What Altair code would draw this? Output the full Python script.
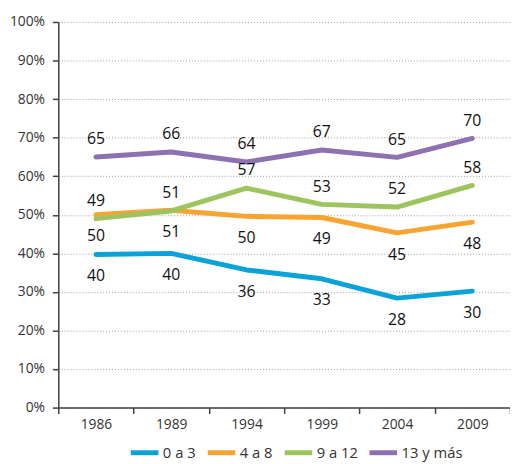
import altair as alt
import pandas as pd

years = ["1986", "1989", "1994", "1999", "2004", "2009"]
series_names = ["0 a 3", "4 a 8", "9 a 12", "13 y más"]
v_0a3 = [39.7, 40.0, 35.7, 33.4, 28.4, 30.2]
v_4a8 = [50.0, 51.2, 49.6, 49.3, 45.3, 48.1]
v_9a12 = [49.0, 51.0, 56.9, 52.7, 52.0, 57.6]
v_13 = [65.0, 66.3, 63.7, 66.8, 64.9, 69.8]
colors = ["#0AA3D8", "#F7A431", "#9DC45F", "#8D71B0"]

rows = []
for name, vals in zip(series_names, [v_0a3, v_4a8, v_9a12, v_13]):
    for y, v in zip(years, vals):
        rows.append({"year": y, "serie": name, "value": v})
df = pd.DataFrame(rows)

FONT = "Open Sans"

x = alt.X("year:O", sort=years, title=None,
          scale=alt.Scale(paddingInner=0, paddingOuter=0),
          axis=alt.Axis(labelAngle=0, tickBand="extent", domainColor="#404040",
                        tickColor="#404040", domainWidth=1.5, tickWidth=1.5,
                        tickSize=6, labelFontSize=14, labelColor="#333333",
                        labelFont=FONT, labelPadding=4, grid=False))
y = alt.Y("value:Q", title=None,
          scale=alt.Scale(domain=[0, 100]),
          axis=alt.Axis(values=list(range(0, 101, 10)), labelExpr="datum.value + '%'",
                        domainColor="#404040", tickColor="#404040", domainWidth=1.5,
                        tickWidth=1.5, tickSize=6, labelFontSize=14, labelColor="#333333",
                        labelFont=FONT, labelPadding=8, gridColor="#9a9a9a",
                        gridDash=[1, 2], gridWidth=1))
color = alt.Color("serie:N", sort=series_names,
                  scale=alt.Scale(domain=series_names, range=colors),
                  legend=alt.Legend(title=None, orient="none", direction="horizontal",
                                    legendX=71, legendY=420, symbolType="stroke",
                                    symbolSize=784, symbolStrokeWidth=5,
                                    labelFontSize=15, labelFont=FONT, labelColor="#333333",
                                    labelOffset=2, columnPadding=1, gridAlign="each"))

base = alt.Chart(df)
lines = base.mark_line(strokeWidth=5, strokeCap="round", strokeJoin="round").encode(
    x=x, y=y, color=color)

above = base.transform_filter(
    alt.FieldOneOfPredicate(field="serie", oneOf=["9 a 12", "13 y más"])
).mark_text(dy=-18, fontSize=16, font=FONT, color="#111111").encode(
    x=x, y=y, text=alt.Text("value:Q", format=".0f"))
below = base.transform_filter(
    alt.FieldOneOfPredicate(field="serie", oneOf=["0 a 3", "4 a 8"])
).mark_text(dy=22, fontSize=16, font=FONT, color="#111111").encode(
    x=x, y=y, text=alt.Text("value:Q", format=".0f"))

chart = alt.layer(lines, above, below).properties(
    width=458, height=391,
    autosize=alt.AutoSizeParams(type="none"),
    padding={"left": 51, "top": 11, "right": 0, "bottom": 54},
).configure_view(stroke=None)

chart.save("out.html", embed_options={"renderer": "svg", "actions": False})
